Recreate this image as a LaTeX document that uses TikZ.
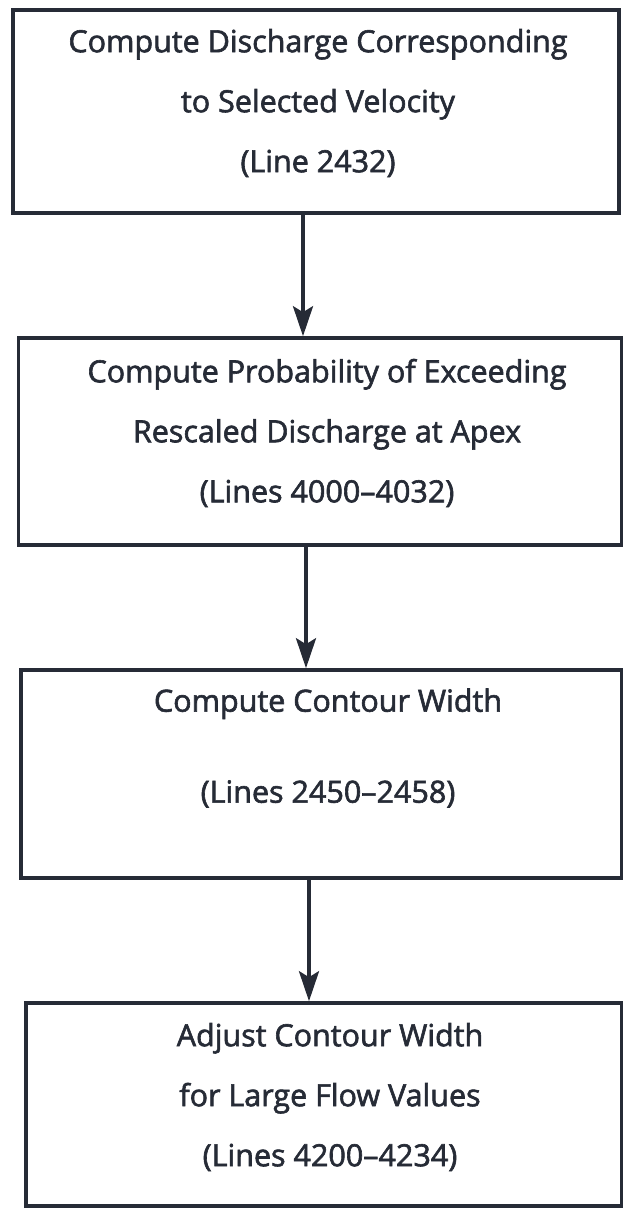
\documentclass[tikz,border=0pt]{standalone}
\usepackage{fontspec}
\setmainfont{Open Sans}[FakeBold=2]
\usetikzlibrary{arrows.meta}

\definecolor{ink}{HTML}{262B36}

\tikzset{
    box/.style={draw=ink, line width=3.6pt, inner sep=0pt},
    txt/.style={text=ink, align=center, inner sep=0pt,
        font=\fontsize{30.5}{60}\selectfont},
    arr/.style={-{Stealth[length=30pt, width=20pt, inset=6pt]}, draw=ink, line width=3.6pt}
}

\begin{document}
\begin{tikzpicture}[x=1pt, y=-1pt]
    % page frame (same size as the scanned figure)
    \useasboundingbox (0,0) rectangle (623,1208);

    % Boxes
    \node[box, minimum width=606pt, minimum height=203pt] (b1) at (316,111.5) {};
    \node[box, minimum width=603pt, minimum height=207pt] (b2) at (320,441.5) {};
    \node[box, minimum width=601pt, minimum height=208pt] (b3) at (321.5,774) {};
    \node[box, minimum width=596pt, minimum height=203pt] (b4) at (324,1104.5) {};

    % Box texts
    \node[txt] (t1) at (318,103) {Compute Discharge Corresponding\\to Selected Velocity\\(Line 2432)};
    \node[txt] (t2) at (327,433) {Compute Probability of Exceeding\\Rescaled Discharge at Apex\\(Lines 4000--4032)};
    \node[txt] (t3) at (328,748) {Compute Contour Width\\[31pt](Lines 2450--2458)};
    \node[txt] (t4) at (330,1097) {Adjust Contour Width\\for Large Flow Values\\(Lines 4200--4234)};

    % Arrows between the boxes
    \draw[arr] ([xshift=-13pt]b1.south) -- ([xshift=-13pt]b1.south |- b2.north);
    \draw[arr] ([xshift=-14pt]b2.south) -- ([xshift=-14pt]b2.south |- b3.north);
    \draw[arr] ([xshift=-12.5pt]b3.south) -- ([xshift=-12.5pt]b3.south |- b4.north);
\end{tikzpicture}
\end{document}
